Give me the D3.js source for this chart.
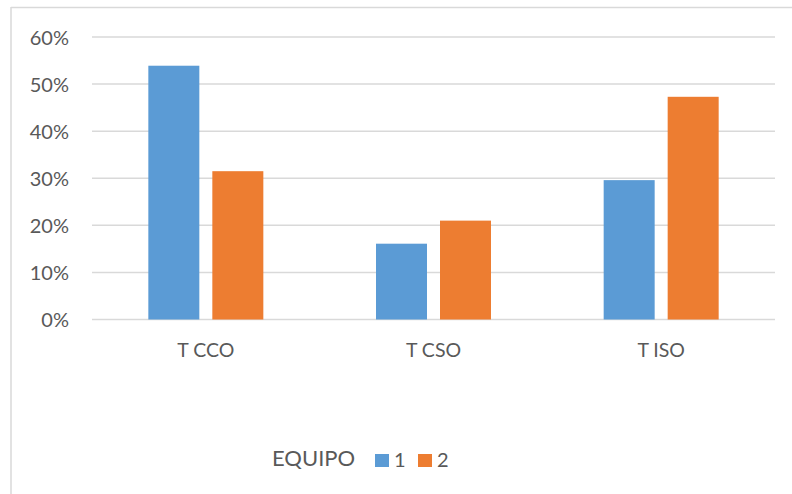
<!DOCTYPE html>
<html>
<head>
<meta charset="utf-8">
<script src="https://cdn.jsdelivr.net/npm/d3@7"></script>
<style>
  html, body { margin: 0; padding: 0; background: #fff; }
  svg { display: block; }
  text { font-family: Lato, "Open Sans", sans-serif; fill: #595959; }
</style>
</head>
<body>
<svg id="chart" width="792" height="494"></svg>
<script>
// Percentage of each team per category
const categories = ["T CCO", "T CSO", "T ISO"];
const seriesNames = ["1", "2"];
const equipo1 = [0.539, 0.161, 0.296];
const equipo2 = [0.315, 0.210, 0.473];
const yTicks = [0, 0.1, 0.2, 0.3, 0.4, 0.5, 0.6];
const legendTitle = "EQUIPO";
const colors = ["#5b9bd5", "#ed7d31"];

const svg = d3.select("#chart");
const W = 792, H = 494;
const plot = { left: 92, right: 775, top: 37, bottom: 319.5 };

// Chart frame (top and left edges)
svg.append("line").attr("x1", 11).attr("x2", W).attr("y1", 7.5).attr("y2", 7.5)
  .attr("stroke", "#d9d9d9").attr("stroke-width", 1.5);
svg.append("line").attr("x1", 11).attr("x2", 11).attr("y1", 7).attr("y2", H)
  .attr("stroke", "#d9d9d9").attr("stroke-width", 1.5);

const x0 = d3.scaleBand().domain(categories).range([plot.left, plot.right]);
const y = d3.scaleLinear().domain([0, 0.6]).range([plot.bottom, plot.top]);

// Gridlines
svg.append("g").selectAll("line").data(yTicks).join("line")
  .attr("x1", plot.left).attr("x2", plot.right)
  .attr("y1", d => y(d)).attr("y2", d => y(d))
  .attr("stroke", "#d9d9d9").attr("stroke-width", 1.5);

// Y axis labels
const yAxis = d3.axisLeft(y).tickValues(yTicks).tickFormat(d3.format(".0%")).tickSize(0).tickPadding(0);
const gy = svg.append("g").attr("transform", "translate(69,0)").call(yAxis);
gy.select(".domain").remove();
gy.selectAll("text").attr("font-size", 20).attr("font-family", "Lato").attr("fill", "#595959").attr("dy", "0.35em");

// Bars
const barW = 51, gap = 13;
const data = categories.map((c, i) => ({ c, vals: [equipo1[i], equipo2[i]] }));
const groups = svg.append("g").selectAll("g").data(data).join("g")
  .attr("transform", d => `translate(${x0(d.c) + x0.bandwidth() / 2},0)`);
groups.selectAll("rect").data(d => d.vals.map((v, j) => ({ v, j }))).join("rect")
  .attr("x", d => d.j === 0 ? -(barW + gap / 2) : gap / 2)
  .attr("width", barW)
  .attr("y", d => y(d.v))
  .attr("height", d => y(0) - y(d.v))
  .attr("fill", d => colors[d.j]);

// Category labels
const xAxis = d3.axisBottom(x0).tickSize(0).tickPadding(0);
const gx = svg.append("g").attr("transform", `translate(0,357)`).call(xAxis);
gx.select(".domain").remove();
gx.selectAll("text").attr("font-size", 19.5).attr("font-family", "Lato").attr("fill", "#595959").attr("dy", 0);

// Legend
const lg = svg.append("g");
lg.append("text").attr("x", 272).attr("y", 466).attr("font-size", 22).text(legendTitle);
const items = [{ x: 375 }, { x: 418 }];
seriesNames.forEach((s, i) => {
  lg.append("rect").attr("x", items[i].x).attr("y", 454).attr("width", 14).attr("height", 13).attr("fill", colors[i]);
  lg.append("text").attr("x", items[i].x + 19).attr("y", 467).attr("font-size", 20).text(s);
});
</script>
</body>
</html>
